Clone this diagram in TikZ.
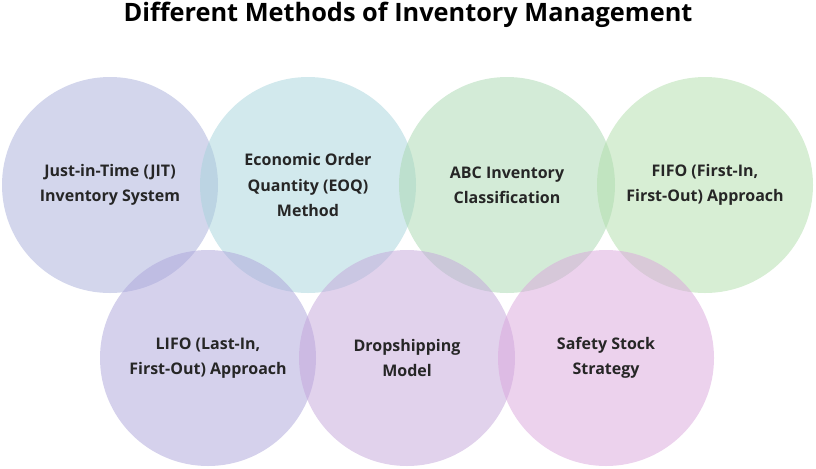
\documentclass[tikz,border=0pt]{standalone}
\usepackage{fontspec}
\setmainfont{Open Sans}
\begin{document}
\begin{tikzpicture}[x=0.75pt,y=-0.75pt,
  circ/.style={circle,minimum size=216*0.75pt,inner sep=0pt,fill opacity=0.5,text opacity=1,align=center,font=\fontsize{12}{19}\selectfont\bfseries,text=black!85},
  ]
\definecolor{c1}{HTML}{A7ADDA}
\definecolor{c2}{HTML}{A6D3DB}
\definecolor{c3}{HTML}{A8D8B0}
\definecolor{c4}{HTML}{B0DDA9}
\definecolor{c5}{HTML}{ACA4DA}
\definecolor{c6}{HTML}{C3A5DA}
\definecolor{c7}{HTML}{DAA5DC}
\useasboundingbox (0,0) rectangle (816,468);
\node[font=\fontsize{19}{24}\selectfont\bfseries] (title) at (408,15) {Different Methods of Inventory Management};
\node[circ,fill=c1] (a) at (110,185) {Just-in-Time (JIT)\\Inventory System};
\node[circ,fill=c2] (b) at (308,185) {Economic Order\\Quantity (EOQ)\\Method};
\node[circ,fill=c3] (c) at (507,185) {ABC Inventory\\Classification};
\node[circ,fill=c4] (d) at (705,185) {FIFO (First-In,\\First-Out) Approach};
\node[circ,fill=c5] (e) at (208,358) {LIFO (Last-In,\\First-Out) Approach};
\node[circ,fill=c6] (f) at (407,358) {Dropshipping\\Model};
\node[circ,fill=c7] (g) at (606,358) {Safety Stock\\Strategy};
\end{tikzpicture}
\end{document}
